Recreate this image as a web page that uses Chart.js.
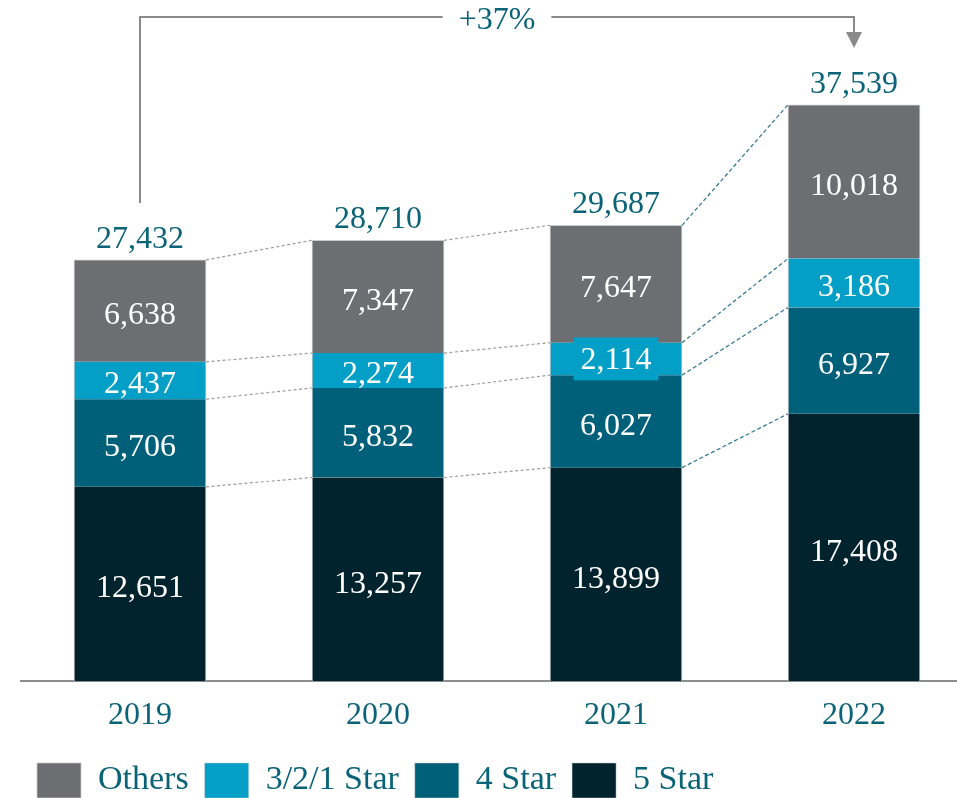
<!DOCTYPE html>
<html>
<head>
<meta charset="utf-8">
<script src="https://cdn.jsdelivr.net/npm/chart.js@4.4.0/dist/chart.umd.min.js"></script>
<style>
  html, body { margin:0; padding:0; background:#fff; overflow:hidden; width:957px; height:798px; }
  #wrap { position:relative; width:990px; height:808px; }
</style>
</head>
<body>
<div id="wrap"><canvas id="c"></canvas></div>
<script>
// ---- data ----
const categories = ['2019', '2020', '2021', '2022'];
const star5 = [12651, 13257, 13899, 17408];
const star4 = [5706, 5832, 6027, 6927];
const star321 = [2437, 2274, 2114, 3186];
const others = [6638, 7347, 7647, 10018];
const totals = [27432, 28710, 29687, 37539];
const seriesNames = ['5 Star', '4 Star', '3/2/1 Star', 'Others'];
const growthLabel = '+37%';

// ---- styles ----
const FONT = '"Liberation Serif", "Times New Roman", serif';
const TEAL_TEXT = '#0b6378';
const seriesColors = ['#00232e', '#00607a', '#039fc7', '#6d6e72'];

const fmt = v => v.toLocaleString('en-US');

const decorations = {
  id: 'decorations',
  afterDatasetsDraw(chart) {
    const ctx = chart.ctx;
    const y = chart.scales.y;
    const x = chart.scales.x;
    const metas = chart.data.datasets.map((d, i) => chart.getDatasetMeta(i));
    ctx.save();

    // connector lines
    const n = categories.length;
    for (let i = 0; i < n - 1; i++) {
      ctx.beginPath();
      ctx.lineWidth = 1.2;
      if (i < n - 2) { ctx.strokeStyle = '#9d9d9d'; ctx.setLineDash([3, 2.5]); }
      else { ctx.strokeStyle = '#2b7389'; ctx.setLineDash([4, 2.5]); }
      let cumA = 0, cumB = 0;
      chart.data.datasets.forEach((ds, di) => {
        cumA += ds.data[i]; cumB += ds.data[i + 1];
        const a = metas[di].data[i], b = metas[di].data[i + 1];
        const x1 = a.x + a.width / 2, x2 = b.x - b.width / 2;
        ctx.moveTo(x1, y.getPixelForValue(cumA));
        ctx.lineTo(x2, y.getPixelForValue(cumB));
      });
      ctx.stroke();
    }
    ctx.setLineDash([]);

    // segment labels
    ctx.font = '32px ' + FONT;
    ctx.textAlign = 'center';
    ctx.textBaseline = 'middle';
    chart.data.datasets.forEach((ds, di) => {
      metas[di].data.forEach((el, i) => {
        const h = Math.abs(el.base - el.y);
        const cy = (el.y + el.base) / 2;
        const txt = fmt(ds.data[i]);
        let off = 5;
        if (h < 34) {
          const w = ctx.measureText(txt).width + 14;
          ctx.fillStyle = ds.backgroundColor;
          ctx.fillRect(el.x - w / 2, cy - 21.5, w, 43);
          off = 2;
        } else if (h < 40) {
          off = 4;
        }
        ctx.fillStyle = '#ffffff';
        ctx.fillText(txt, el.x, cy + off);
      });
    });

    // totals
    ctx.fillStyle = TEAL_TEXT;
    ctx.textBaseline = 'alphabetic';
    totals.forEach((t, i) => {
      ctx.fillText(fmt(t), x.getPixelForValue(i), y.getPixelForValue(t) - 12);
    });

    // growth bracket
    const xa = x.getPixelForValue(0), xb = x.getPixelForValue(n - 1);
    const yBottom = y.getPixelForValue(totals[0]) - 57;
    const yTop = 17;
    const xm = (xa + xb) / 2;
    ctx.textBaseline = 'middle';
    const tw = ctx.measureText(growthLabel).width;
    ctx.fillText(growthLabel, xm, yTop + 4);
    ctx.strokeStyle = '#8a8a8a';
    ctx.lineWidth = 2;
    ctx.beginPath();
    ctx.moveTo(xa, yBottom);
    ctx.lineTo(xa, yTop);
    ctx.lineTo(xm - tw / 2 - 16, yTop);
    ctx.moveTo(xm + tw / 2 + 16, yTop);
    ctx.lineTo(xb, yTop);
    ctx.lineTo(xb, yTop + 16);
    ctx.stroke();
    ctx.fillStyle = '#8a8a8a';
    ctx.beginPath();
    ctx.moveTo(xb - 8, yTop + 15);
    ctx.lineTo(xb + 8, yTop + 15);
    ctx.lineTo(xb, yTop + 31);
    ctx.closePath();
    ctx.fill();
    ctx.restore();
  }
};

const seriesData = [star5, star4, star321, others];
const datasets = seriesData.map((d, i) => ({
  label: seriesNames[i],
  data: d,
  backgroundColor: seriesColors[i],
  borderColor: '#c9cacc',
  borderWidth: i === 3 ? { left: 1, right: 1, top: 1, bottom: 0 } : { left: 1, right: 1, top: 0, bottom: 0 },
  borderSkipped: false,
  barThickness: 132,
  stack: 's'
}));

new Chart(document.getElementById('c'), {
  type: 'bar',
  data: { labels: categories, datasets },
  options: {
    responsive: true,
    maintainAspectRatio: false,
    devicePixelRatio: 1,
    animation: false,
    layout: { padding: { left: 21, right: 17, top: 67, bottom: 0 } },
    plugins: {
      tooltip: { enabled: false },
      legend: {
        position: 'bottom',
        align: 'start',
        reverse: true,
        labels: {
          color: TEAL_TEXT,
          font: { family: FONT, size: 34 },
          boxWidth: 44,
          boxHeight: 35,
          padding: 16
        }
      }
    },
    scales: {
      x: {
        stacked: true,
        grid: { display: false },
        border: { display: true, color: '#8c8c8c', width: 2 },
        ticks: { color: TEAL_TEXT, font: { family: FONT, size: 32 }, padding: 7 },
        afterFit(s) { s.height = 66; }
      },
      y: {
        stacked: true,
        display: false,
        min: 0,
        max: 40000
      }
    }
  },
  plugins: [decorations]
});
</script>
</body>
</html>
